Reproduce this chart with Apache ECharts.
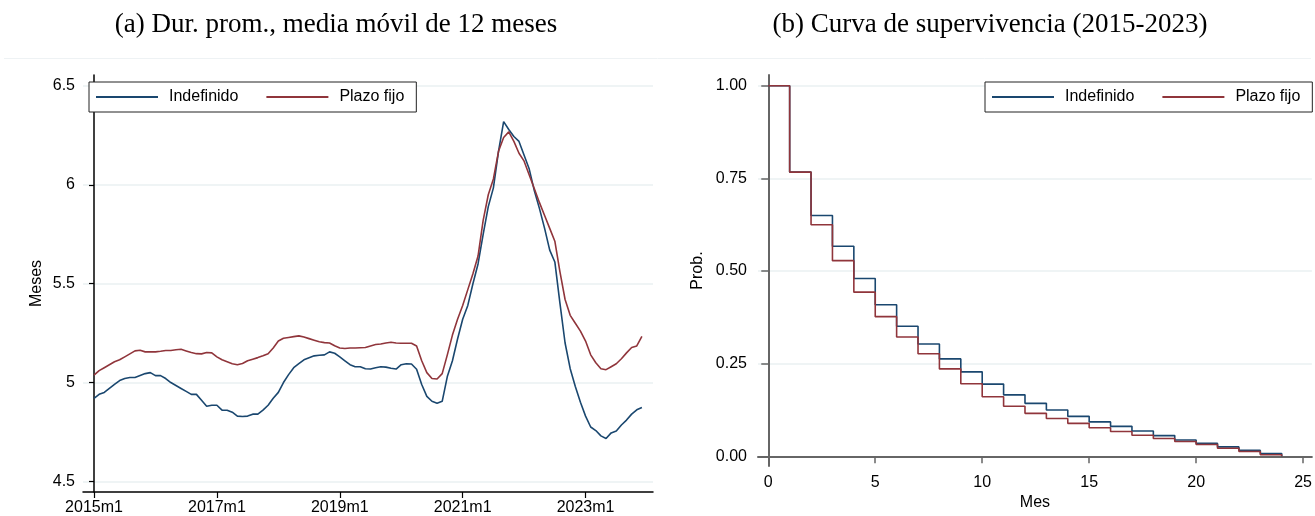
<!DOCTYPE html>
<html>
<head>
<meta charset="utf-8">
<script src="https://cdn.jsdelivr.net/npm/echarts@6/dist/echarts.min.js"></script>
<style>html,body{margin:0;padding:0;background:#fff;}#c{width:1315px;height:516px;}</style>
</head>
<body>
<div id="c"></div>
<script>
// ---- Data ----
const years = [2015, 2016, 2017, 2018, 2019, 2020, 2021, 2022, 2023];
const months = [];
years.forEach(y => { for (let m = 1; m <= 12; m++) months.push(y + 'm' + m); });

const indefinido = [
  4.92, 4.94, 4.95, 4.97, 4.99, 5.01, 5.02, 5.025, 5.025, 5.035, 5.045, 5.05,
  5.035, 5.035, 5.02, 5.00, 4.985, 4.97, 4.955, 4.94, 4.94, 4.91, 4.88, 4.885,
  4.885, 4.86, 4.86, 4.85, 4.83, 4.828, 4.83, 4.84, 4.84, 4.86, 4.885, 4.92,
  4.95, 5.00, 5.04, 5.075, 5.095, 5.115, 5.125, 5.135, 5.138, 5.14, 5.155, 5.148,
  5.13, 5.11, 5.09, 5.08, 5.08, 5.07, 5.068, 5.075, 5.08, 5.078, 5.072, 5.068,
  5.09, 5.095, 5.094, 5.067, 4.99, 4.93, 4.905, 4.895, 4.905, 5.03, 5.11, 5.22,
  5.32, 5.39, 5.50, 5.60, 5.75, 5.89, 5.985, 6.17, 6.32, 6.28, 6.245, 6.22,
  6.15, 6.08, 5.97, 5.88, 5.78, 5.67, 5.61, 5.40, 5.20, 5.07, 4.98, 4.90,
  4.83, 4.775, 4.757, 4.73, 4.717, 4.745, 4.755, 4.785, 4.81, 4.84, 4.862, 4.874
];
const plazoFijo = [
  5.037, 5.06, 5.075, 5.09, 5.105, 5.115, 5.13, 5.145, 5.16, 5.163, 5.155, 5.155,
  5.155, 5.158, 5.162, 5.162, 5.166, 5.168, 5.16, 5.152, 5.146, 5.145, 5.152, 5.15,
  5.13, 5.115, 5.105, 5.095, 5.09, 5.096, 5.11, 5.118, 5.126, 5.135, 5.146, 5.175,
  5.21, 5.224, 5.228, 5.232, 5.236, 5.23, 5.222, 5.214, 5.206, 5.202, 5.2, 5.186,
  5.175, 5.172, 5.175, 5.175, 5.176, 5.177, 5.185, 5.192, 5.195, 5.2, 5.204, 5.2,
  5.199, 5.199, 5.199, 5.185, 5.11, 5.05, 5.02, 5.018, 5.045, 5.14, 5.24, 5.32,
  5.39, 5.47, 5.55, 5.64, 5.82, 5.95, 6.03, 6.17, 6.24, 6.268, 6.22, 6.16,
  6.12, 6.05, 5.98, 5.91, 5.845, 5.78, 5.715, 5.56, 5.42, 5.34, 5.30, 5.26,
  5.21, 5.14, 5.10, 5.07, 5.065, 5.08, 5.095, 5.12, 5.15, 5.177, 5.185, 5.233
];
const leftXTicks = [0, 24, 48, 72, 96];
const leftYTicks = [4.5, 5, 5.5, 6, 6.5];

const survMonths = [0, 1, 2, 3, 4, 5, 6, 7, 8, 9, 10, 11, 12, 13, 14, 15, 16, 17, 18, 19, 20, 21, 22, 23, 24];
const survIndef = [1.00, 0.767, 0.65, 0.567, 0.48, 0.409, 0.351, 0.303, 0.263, 0.228, 0.195, 0.166, 0.143,
  0.125, 0.108, 0.093, 0.081, 0.0685, 0.056, 0.044, 0.035, 0.0255, 0.016, 0.0075, 0.0];
const survPlazo = [1.00, 0.767, 0.625, 0.528, 0.443, 0.377, 0.322, 0.277, 0.236, 0.196, 0.161, 0.135, 0.116,
  0.102, 0.089, 0.077, 0.067, 0.057, 0.048, 0.040, 0.032, 0.022, 0.013, 0.0044, 0.0];
const rightXTicks = [0, 5, 10, 15, 20, 25];
const rightYTicks = [0, 0.25, 0.5, 0.75, 1];

const titles = ['(a) Dur. prom., media móvil de 12 meses', '(b) Curva de supervivencia (2015-2023)'];

// ---- Styling ----
const BLUE = '#1a476f';
const RED = '#90353b';
const FONT = '"Liberation Sans", Arial, sans-serif';
const GRID_COLOR = '#eaf0f2';
const TITLE_FONT = '27px "Liberation Serif", "DejaVu Serif", serif';

const chart = echarts.init(document.getElementById('c'), null, { renderer: 'canvas' });

const legendCommon = {
  orient: 'horizontal',
  itemWidth: 62,
  itemHeight: 2,
  itemGap: 28,
  icon: 'rect',
  borderColor: '#222',
  borderWidth: 1,
  padding: [7, 12, 7, 7],
  backgroundColor: '#fff',
  textStyle: { fontFamily: FONT, fontSize: 16, color: '#000', padding: [0, 0, 0, 6] },
  data: ['Indefinido', 'Plazo fijo']
};

const option = {
  animation: false,
  backgroundColor: '#fff',
  graphic: [
    { type: 'line', shape: { x1: 4, y1: 58.5, x2: 1311, y2: 58.5 }, style: { stroke: '#eef2f4', lineWidth: 1 }, silent: true },
    { type: 'text', x: 336, y: 25, style: { text: titles[0], font: TITLE_FONT, fill: '#000', textAlign: 'center', textVerticalAlign: 'middle' } },
    { type: 'text', x: 990, y: 25, style: { text: titles[1], font: TITLE_FONT, fill: '#000', textAlign: 'center', textVerticalAlign: 'middle' } }
  ],
  legend: [
    Object.assign({}, legendCommon, { left: 89, top: 82 }),
    Object.assign({}, legendCommon, { left: 985, top: 82 })
  ],
  grid: [
    { left: 83, top: 75, width: 570, height: 418 },
    { left: 758, top: 75, width: 557, height: 401 }
  ],
  xAxis: [
    {
      type: 'value', gridIndex: 0, min: -2.15, max: 109.17,
      axisLine: { show: true, lineStyle: { color: '#000', width: 1.5 } },
      axisTick: { show: true, length: 6, lineStyle: { color: '#000', width: 1.2 }, customValues: leftXTicks },
      axisLabel: { customValues: leftXTicks, formatter: v => months[Math.round(v)], fontFamily: FONT, fontSize: 16, color: '#000', margin: 8 },
      splitLine: { show: false }
    },
    {
      type: 'value', gridIndex: 1, min: -0.48, max: 25.41,
      name: 'Mes', nameLocation: 'middle', nameGap: 26,
      nameTextStyle: { fontFamily: FONT, fontSize: 16, color: '#000' },
      axisLine: { show: true, lineStyle: { color: '#666', width: 2 } },
      axisTick: { show: true, length: 7, lineStyle: { color: '#666', width: 1.5 }, customValues: rightXTicks },
      axisLabel: { customValues: rightXTicks, fontFamily: FONT, fontSize: 16, color: '#000', margin: 8 },
      splitLine: { show: false }
    }
  ],
  yAxis: [
    {
      type: 'value', gridIndex: 0, min: 4.446, max: 6.556,
      name: 'Meses', nameLocation: 'middle', nameGap: 38, nameRotate: 90,
      nameTextStyle: { fontFamily: FONT, fontSize: 16, color: '#000' },
      axisLine: { show: true, lineStyle: { color: '#000', width: 1.5 } },
      axisTick: { show: true, length: 5, lineStyle: { color: '#000', width: 1.2 }, customValues: leftYTicks },
      axisLabel: { customValues: leftYTicks, fontFamily: FONT, fontSize: 16, color: '#000', margin: 8 },
      splitLine: { show: true, lineStyle: { color: GRID_COLOR, width: 1.5 } }
    },
    {
      type: 'value', gridIndex: 1, min: -0.0263, max: 1.029,
      name: 'Prob.', nameLocation: 'middle', nameGap: 52, nameRotate: 90,
      nameTextStyle: { fontFamily: FONT, fontSize: 16, color: '#000' },
      axisLine: { show: true, lineStyle: { color: '#666', width: 2 } },
      axisTick: { show: true, length: 7, lineStyle: { color: '#666', width: 1.5 }, customValues: rightYTicks },
      axisLabel: { customValues: rightYTicks, formatter: v => v.toFixed(2), fontFamily: FONT, fontSize: 16, color: '#000', margin: 11 },
      splitLine: { show: true, lineStyle: { color: GRID_COLOR, width: 1.5 } }
    }
  ],
  series: [
    { name: 'Indefinido', type: 'line', xAxisIndex: 0, yAxisIndex: 0, showSymbol: false, symbol: 'none',
      data: indefinido.map((v, i) => [i, v]), lineStyle: { color: BLUE, width: 1.6 }, itemStyle: { color: BLUE } },
    { name: 'Plazo fijo', type: 'line', xAxisIndex: 0, yAxisIndex: 0, showSymbol: false, symbol: 'none',
      data: plazoFijo.map((v, i) => [i, v]), lineStyle: { color: RED, width: 1.6 }, itemStyle: { color: RED } },
    { name: 'Indefinido', type: 'line', xAxisIndex: 1, yAxisIndex: 1, showSymbol: false, symbol: 'none', step: 'end',
      data: survIndef.map((v, i) => [survMonths[i], v]), lineStyle: { color: BLUE, width: 1.6 }, itemStyle: { color: BLUE } },
    { name: 'Plazo fijo', type: 'line', xAxisIndex: 1, yAxisIndex: 1, showSymbol: false, symbol: 'none', step: 'end',
      data: survPlazo.map((v, i) => [survMonths[i], v]), lineStyle: { color: RED, width: 1.6 }, itemStyle: { color: RED } }
  ]
};
chart.setOption(option);
</script>
</body>
</html>
